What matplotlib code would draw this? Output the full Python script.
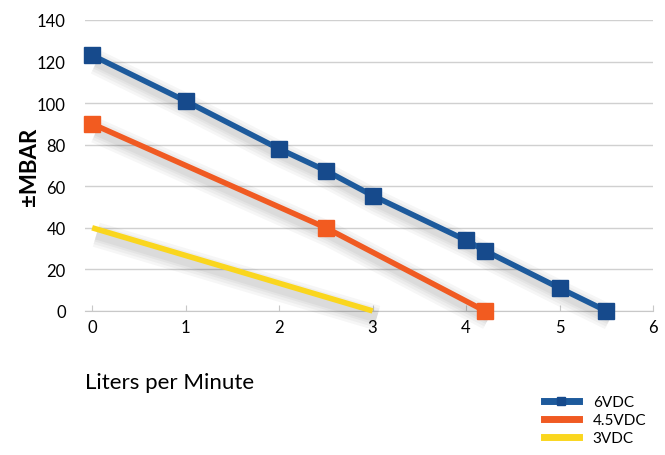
import matplotlib
matplotlib.use("Agg")
import matplotlib.pyplot as plt
import matplotlib.patheffects as pe

plt.rcParams['font.family'] = ['Lato', 'DejaVu Sans']

# 6VDC
x6 = [0, 1, 2, 2.5, 3, 4, 4.2, 5, 5.5]
y6 = [123, 101, 78, 67.5, 55.5, 34, 29, 11, 0]
# 4.5VDC
x45 = [0, 2.5, 4.2]
y45 = [90, 40, 0]
# 3VDC
x3 = [0, 3]
y3 = [40, 0]

fig = plt.figure(figsize=(6.65, 4.56), dpi=100)
ax = fig.add_axes([0.128, 0.316, 0.854, 0.638])

# soft drop shadow: a few wide faint strokes stacked
shadow = [pe.SimpleLineShadow(offset=(3, -5), shadow_color="black", alpha=0.035, linewidth=w)
          for w in (18, 14, 10, 7)] + [pe.Normal()]

series = [
    (x6, y6, "#1d5a9c", "#164a8c", "s", "6VDC", 5),
    (x45, y45, "#f05a22", "#f25b20", "s", "4.5VDC", 4),
    (x3, y3, "#fad61e", "#fad61e", None, "3VDC", 3),
]
for xs, ys, c, mc, mk, lab, z in series:
    ax.plot(xs, ys, color=c, lw=4, clip_on=False, zorder=z, path_effects=shadow,
            solid_capstyle="butt")
    if mk:
        ax.plot(xs, ys, ls="none", marker=mk, ms=11, mfc=mc, mec=mc, clip_on=False, zorder=z + 0.5)

ax.set_xlim(-0.075, 6)
ax.set_ylim(0, 140)
ax.set_xticks(range(0, 7))
ax.set_yticks(range(0, 141, 20))
ax.grid(axis="y", color="#d0d0d0", lw=1)
ax.set_axisbelow(True)
for s in ["top", "right", "left"]:
    ax.spines[s].set_visible(False)
ax.spines["bottom"].set_color("#c8c8c8")
ax.tick_params(axis="y", length=0, labelsize=12, pad=14)
ax.tick_params(axis="x", length=4, color="#c8c8c8", labelsize=12, pad=6, direction="in")

ax.set_ylabel("±MBAR", fontsize=16, fontweight="bold", labelpad=-2)
fig.text(0.128, 0.16, "Liters per Minute", fontsize=16, ha="left", va="center")

leg_handles = [
    plt.Line2D([], [], color="#1d5a9c", lw=5, marker="s", ms=6, mfc="#164a8c", mec="#164a8c"),
    plt.Line2D([], [], color="#f05a22", lw=5, marker="D", ms=3, mfc="#f05a22", mec="#f05a22"),
    plt.Line2D([], [], color="#fad61e", lw=5),
]
fig.legend(leg_handles, ["6VDC", "4.5VDC", "3VDC"], loc="lower left",
           bbox_to_anchor=(0.797, -0.008), frameon=False, fontsize=11, handlelength=2.3,
           labelspacing=0.25, handletextpad=0.9)

fig.savefig("out.png", dpi=100)
